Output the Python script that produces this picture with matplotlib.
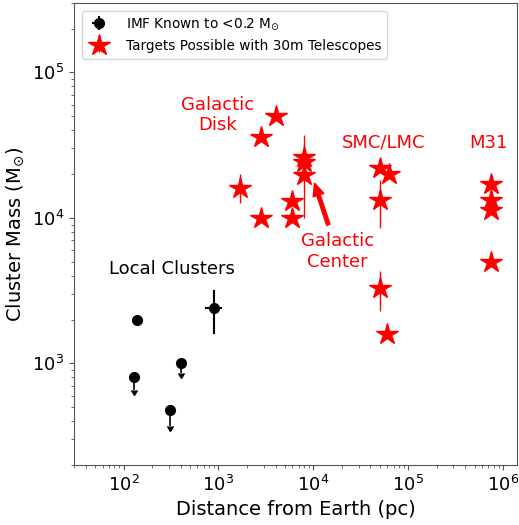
import numpy as np
import matplotlib
matplotlib.use('Agg')
import matplotlib.pyplot as plt

# local clusters with IMF measured down to 0.2 Msun
local_dist = [140, 900]
local_mass = [2000, 2400]
local_xerr = [0, 180]
local_yerr = [0, 800]

# upper limits
lim_dist = [130, 305, 400]
lim_mass = [800, 480, 1000]
lim_err = [140, 110, 140]

# targets for 30m telescopes
star_dist = [4000, 2800, 8000, 8000, 8000, 1700, 2800, 6000, 6000,
             50000, 62000, 50000, 50000, 60000,
             750000, 750000, 750000, 750000]
star_mass = [50000, 36000, 26400, 24400, 19800, 16000, 10000, 13000, 10000,
             22000, 20000, 13300, 3300, 1600,
             17000, 13300, 11400, 5000]
star_err_lo = [0, 0, 0, 14400, 0, 3300, 0, 0, 0,
               0, 0, 4800, 1000, 0,
               0, 0, 0, 0]
star_err_hi = [0, 0, 0, 12600, 0, 4000, 0, 0, 0,
               0, 0, 5000, 1000, 0,
               0, 0, 0, 0]

fig = plt.figure(figsize=(5.19, 5.25), dpi=100)
ax = fig.add_axes([0.1426, 0.1143, 0.8534, 0.88])

ax.errorbar(local_dist, local_mass, xerr=local_xerr, yerr=local_yerr,
            fmt='o', color='k', ms=7, elinewidth=1.5, capsize=0,
            label=r'IMF Known to <0.2 M$_{\odot}$')
ax.errorbar(lim_dist, lim_mass, yerr=[lim_err, [0, 0, 0]], uplims=True,
            fmt='o', color='k', ms=7, elinewidth=1.2, capsize=2.5)

ax.errorbar(star_dist, star_mass, yerr=[star_err_lo, star_err_hi],
            fmt='*', color='red', ms=16, elinewidth=1, capsize=0,
            label='Targets Possible with 30m Telescopes')

ax.text(990, 51000, 'Galactic\nDisk', color='red', fontsize=13, ha='center', va='center')
ax.text(54500, 32800, 'SMC/LMC', color='red', fontsize=13, ha='center', va='center')
ax.text(7.0e5, 32800, 'M31', color='red', fontsize=13, ha='center', va='center')
ax.text(17900, 5900, 'Galactic\nCenter', color='red', fontsize=13, ha='center', va='center')
ax.text(320, 4430, 'Local Clusters', color='k', fontsize=13, ha='center', va='center')
ax.annotate('', xy=(10300, 17300), xytext=(14400, 8950),
            arrowprops=dict(color='red', width=2.5, headwidth=8, headlength=9, shrink=0))

ax.set_xscale('log')
ax.set_yscale('log')
ax.set_xlim(30, 1.4e6)
ax.set_ylim(200, 3e5)
ax.set_xlabel('Distance from Earth (pc)', fontsize=14)
ax.set_ylabel(r'Cluster Mass (M$_{\odot}$)', fontsize=14)
ax.tick_params(labelsize=13)
for s in ax.spines.values():
    s.set_color('#555555')
ax.tick_params(which='both', color='#555555')

ax.legend(loc='upper left', fontsize=9.8, numpoints=1, handlelength=1.6,
          handletextpad=1.2, borderaxespad=0.6)

fig.savefig('out.png', dpi=100)
